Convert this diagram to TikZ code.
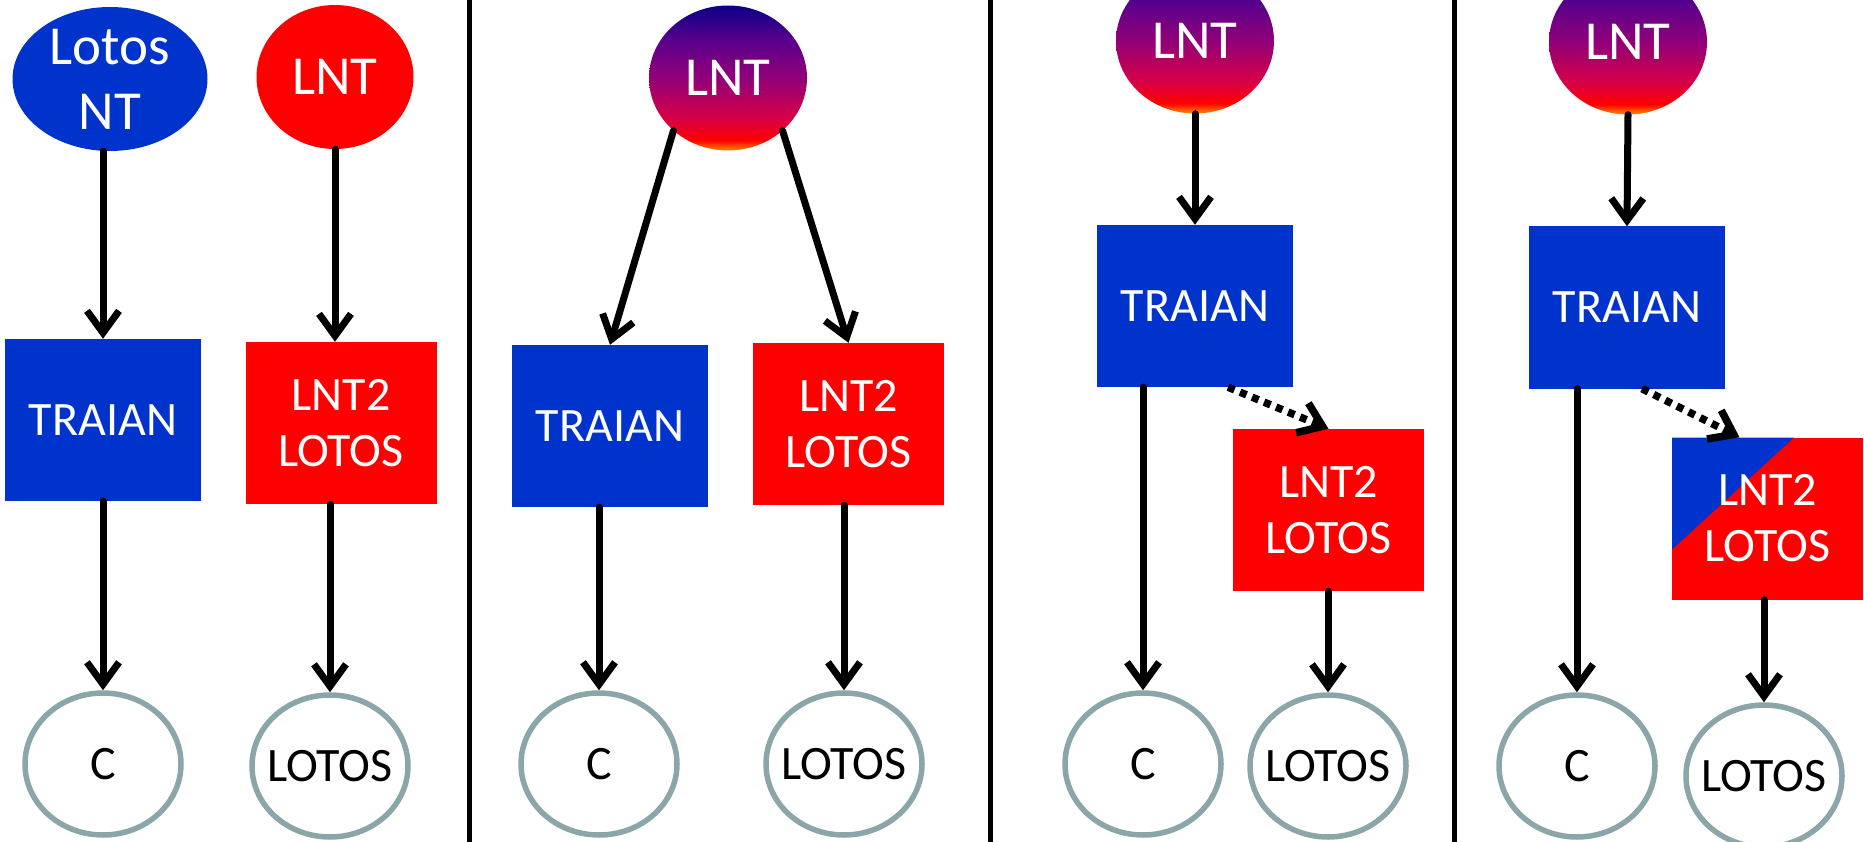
\documentclass[tikz,border=0pt]{standalone}
\usepackage{fontspec}
\setmainfont{Carlito}
\usetikzlibrary{shapes.geometric,arrows.meta,calc}
\definecolor{tblue}{RGB}{0,51,204}
\definecolor{tred}{RGB}{255,0,0}
\definecolor{tgray}{RGB}{139,166,168}
\definecolor{gorng}{RGB}{255,140,0}
\definecolor{gred}{RGB}{255,0,0}
\definecolor{gcrim}{RGB}{215,0,70}
\definecolor{gmag}{RGB}{145,0,120}
\definecolor{gpur}{RGB}{90,0,140}
\definecolor{gnavy}{RGB}{10,0,135}
\pgfdeclareverticalshading{lntshade}{100bp}{color(0bp)=(gorng); color(25bp)=(gorng); color(28.5bp)=(gred); color(36bp)=(gcrim); color(50bp)=(gmag); color(63bp)=(gpur); color(75bp)=(gnavy); color(100bp)=(gnavy)}
\newcommand{\zw}[1]{\makebox[0pt]{#1}}
\tikzset{
  ell/.style={ellipse, inner sep=0pt, minimum width=156pt, minimum height=142pt, draw=tgray, line width=5.5pt, fill=white, font=\fontsize{48}{56}\selectfont},
  topell/.style={ellipse, inner sep=0pt, text=white, align=center, font=\fontsize{55}{65}\selectfont},
  gradell/.style={topell, shading=lntshade, minimum width=158pt, minimum height=145pt},
  boxs/.style={rectangle, inner sep=0pt, text=white, minimum width=196pt, minimum height=162pt, font=\fontsize{48}{56}\selectfont, align=center},
  bluebox/.style={boxs, fill=tblue},
  redbox/.style={boxs, fill=tred, minimum width=191pt},
  arr/.style={line width=7pt, line cap=round, -{Straight Barb[length=22pt,width=32pt]}},
  dotarr/.style={line width=7.5pt, dash pattern=on 7pt off 6pt, -{Straight Barb[length=22pt,width=32pt]}},
  divider/.style={line width=5pt},
}
\begin{document}
\begin{tikzpicture}[x=1pt,y=-1pt]
\useasboundingbox (0,0) rectangle (1864,842);
% dividers
\draw[divider] (469,-5) -- (469,850);
\draw[divider] (990,-5) -- (990,850);
\draw[divider] (1454,-5) -- (1454,850);
% panel 1
\node[topell, fill=tblue, minimum width=195pt, minimum height=144pt] (lotos) at (110,79) {Lotos\\NT};
\node[topell, fill=tred, minimum width=157pt, minimum height=144pt] (lnt1) at (335,77) {LNT};
\node[bluebox] (tra1) at (103,420) {TRAIAN};
\node[redbox] (red1) at (341,423) {LNT2\\LOTOS};
\node[ell] (c1) at (103,764) {C};
\node[ell] (lo1) at (330,766) {\zw{LOTOS}};
\draw[arr] (lotos.south -| tra1.north) -- (tra1.north);
\draw[arr] (lnt1.south) -- (lnt1.south |- red1.north);
\draw[arr] (tra1.south) -- (c1.north);
\draw[arr] (red1.south -| lo1.north) -- (lo1.north);
% panel 2
\node[gradell] (lnt2) at (728,78) {LNT};
\node[bluebox] (tra2) at (610,426) {TRAIAN};
\node[redbox] (red2) at (848.5,424) {LNT2\\LOTOS};
\node[ell] (c2) at (599,764) {C};
\node[ell] (lo2) at (844,764) {\zw{LOTOS}};
\draw[arr] (lnt2.224) -- (tra2.north);
\draw[arr] (lnt2.316) -- (red2.north);
\draw[arr] (tra2.south -| c2.north) -- (c2.north);
\draw[arr] (red2.south -| lo2.north) -- (lo2.north);
% panel 3
\node[gradell] (lnt3) at (1195,41) {LNT};
\node[bluebox] (tra3) at (1195,306) {TRAIAN};
\node[redbox] (red3) at (1328.5,510) {LNT2\\LOTOS};
\node[ell] (c3) at (1143,764) {C};
\node[ell] (lo3) at (1328,766) {\zw{LOTOS}};
\draw[arr] (lnt3.south) -- (tra3.north);
\draw[dotarr] ([xshift=33pt]tra3.south) -- (red3.north);
\draw[arr] (tra3.south -| c3.north) -- (c3.north);
\draw[arr] (red3.south -| lo3.north) -- (lo3.north);
% panel 4
\node[gradell] (lnt4) at (1628,42) {LNT};
\node[bluebox] (tra4) at (1627,307.5) {TRAIAN};
\node[redbox, path picture={\fill[tblue] (path picture bounding box.north west) -- ++(122pt,0pt) -- ++(-122pt,-112pt) -- cycle;}] (red4) at (1767.5,518.5) {LNT2\\LOTOS};
\node[ell] (c4) at (1577,766) {C};
\node[ell] (lo4) at (1764,776) {\zw{LOTOS}};
\draw[arr] (lnt4.south) -- (tra4.north);
\draw[dotarr] ([xshift=15pt]tra4.south) -- ([xshift=-28pt]red4.north);
\draw[arr] (tra4.south -| c4.north) -- (c4.north);
\draw[arr] (red4.south -| lo4.north) -- (lo4.north);
\end{tikzpicture}
\end{document}
